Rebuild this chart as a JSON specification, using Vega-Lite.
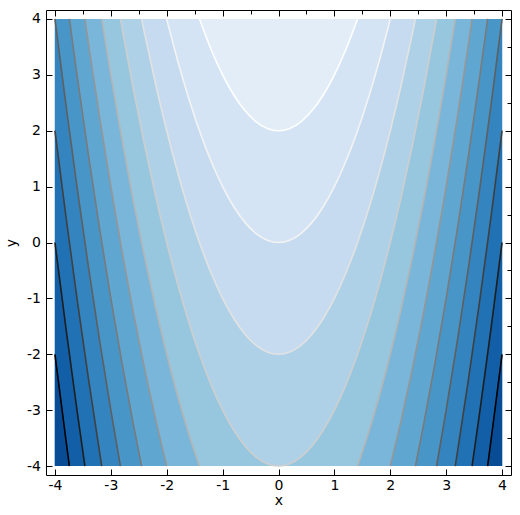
{
  "$schema": "https://vega.github.io/schema/vega-lite/v6.json",
  "width": 465,
  "height": 465,
  "autosize": {"type": "none"},
  "padding": {"left": 46, "top": 10, "right": 9, "bottom": 40},
  "config": {
    "view": {"stroke": "#000", "strokeWidth": 1},
    "font": "DejaVu Sans",
    "axis": {
      "domain": false,
      "grid": false,
      "ticks": true,
      "tickColor": "#000",
      "tickWidth": 1,
      "labelFont": "DejaVu Sans",
      "labelFontSize": 14,
      "labelColor": "#000",
      "labelFlush": false,
      "labelOverlap": false,
      "titleFont": "DejaVu Sans",
      "titleFontSize": 14,
      "titleFontWeight": "normal",
      "titleColor": "#000"
    }
  },
  "datasets": {
    "bg": [{"x": -4, "x2": 4, "y": -4, "y2": 4}],
    "curves": [
      {"k": "L01", "p": "M", "x": -4, "y": 4, "e": 1},
      {"k": "L01", "p": "M", "x": -1.4142, "y": 4},
      {"k": "L01", "p": "M", "x": -1.2, "y": 3.44},
      {"k": "L01", "p": "M", "x": -1.0, "y": 3},
      {"k": "L01", "p": "M", "x": -0.8, "y": 2.64},
      {"k": "L01", "p": "M", "x": -0.6, "y": 2.36},
      {"k": "L01", "p": "M", "x": -0.4, "y": 2.16},
      {"k": "L01", "p": "M", "x": -0.2, "y": 2.04},
      {"k": "L01", "p": "M", "x": 0, "y": 2},
      {"k": "L01", "p": "M", "x": 0.2, "y": 2.04},
      {"k": "L01", "p": "M", "x": 0.4, "y": 2.16},
      {"k": "L01", "p": "M", "x": 0.6, "y": 2.36},
      {"k": "L01", "p": "M", "x": 0.8, "y": 2.64},
      {"k": "L01", "p": "M", "x": 1.0, "y": 3},
      {"k": "L01", "p": "M", "x": 1.2, "y": 3.44},
      {"k": "L01", "p": "M", "x": 1.4142, "y": 4},
      {"k": "L01", "p": "M", "x": 4, "y": 4, "e": 1},

      {"k": "L02", "p": "M", "x": -4, "y": 4, "e": 1},
      {"k": "L02", "p": "M", "x": -2, "y": 4},
      {"k": "L02", "p": "M", "x": -1.8, "y": 3.24},
      {"k": "L02", "p": "M", "x": -1.6, "y": 2.56},
      {"k": "L02", "p": "M", "x": -1.4, "y": 1.96},
      {"k": "L02", "p": "M", "x": -1.2, "y": 1.44},
      {"k": "L02", "p": "M", "x": -1.0, "y": 1},
      {"k": "L02", "p": "M", "x": -0.8, "y": 0.64},
      {"k": "L02", "p": "M", "x": -0.6, "y": 0.36},
      {"k": "L02", "p": "M", "x": -0.4, "y": 0.16},
      {"k": "L02", "p": "M", "x": -0.2, "y": 0.04},
      {"k": "L02", "p": "M", "x": 0, "y": 0},
      {"k": "L02", "p": "M", "x": 0.2, "y": 0.04},
      {"k": "L02", "p": "M", "x": 0.4, "y": 0.16},
      {"k": "L02", "p": "M", "x": 0.6, "y": 0.36},
      {"k": "L02", "p": "M", "x": 0.8, "y": 0.64},
      {"k": "L02", "p": "M", "x": 1.0, "y": 1},
      {"k": "L02", "p": "M", "x": 1.2, "y": 1.44},
      {"k": "L02", "p": "M", "x": 1.4, "y": 1.96},
      {"k": "L02", "p": "M", "x": 1.6, "y": 2.56},
      {"k": "L02", "p": "M", "x": 1.8, "y": 3.24},
      {"k": "L02", "p": "M", "x": 2, "y": 4},
      {"k": "L02", "p": "M", "x": 4, "y": 4, "e": 1},

      {"k": "L03", "p": "M", "x": -4, "y": 4, "e": 1},
      {"k": "L03", "p": "M", "x": -2.4495, "y": 4},
      {"k": "L03", "p": "M", "x": -2.4, "y": 3.76},
      {"k": "L03", "p": "M", "x": -2.2, "y": 2.84},
      {"k": "L03", "p": "M", "x": -2.0, "y": 2},
      {"k": "L03", "p": "M", "x": -1.8, "y": 1.24},
      {"k": "L03", "p": "M", "x": -1.6, "y": 0.56},
      {"k": "L03", "p": "M", "x": -1.4, "y": -0.04},
      {"k": "L03", "p": "M", "x": -1.2, "y": -0.56},
      {"k": "L03", "p": "M", "x": -1.0, "y": -1},
      {"k": "L03", "p": "M", "x": -0.8, "y": -1.36},
      {"k": "L03", "p": "M", "x": -0.6, "y": -1.64},
      {"k": "L03", "p": "M", "x": -0.4, "y": -1.84},
      {"k": "L03", "p": "M", "x": -0.2, "y": -1.96},
      {"k": "L03", "p": "M", "x": 0, "y": -2},
      {"k": "L03", "p": "M", "x": 0.2, "y": -1.96},
      {"k": "L03", "p": "M", "x": 0.4, "y": -1.84},
      {"k": "L03", "p": "M", "x": 0.6, "y": -1.64},
      {"k": "L03", "p": "M", "x": 0.8, "y": -1.36},
      {"k": "L03", "p": "M", "x": 1.0, "y": -1},
      {"k": "L03", "p": "M", "x": 1.2, "y": -0.56},
      {"k": "L03", "p": "M", "x": 1.4, "y": -0.04},
      {"k": "L03", "p": "M", "x": 1.6, "y": 0.56},
      {"k": "L03", "p": "M", "x": 1.8, "y": 1.24},
      {"k": "L03", "p": "M", "x": 2.0, "y": 2},
      {"k": "L03", "p": "M", "x": 2.2, "y": 2.84},
      {"k": "L03", "p": "M", "x": 2.4, "y": 3.76},
      {"k": "L03", "p": "M", "x": 2.4495, "y": 4},
      {"k": "L03", "p": "M", "x": 4, "y": 4, "e": 1},

      {"k": "L04", "p": "M", "x": -4, "y": 4, "e": 1},
      {"k": "L04", "p": "M", "x": -2.8284, "y": 4},
      {"k": "L04", "p": "M", "x": -2.8, "y": 3.84},
      {"k": "L04", "p": "M", "x": -2.6, "y": 2.76},
      {"k": "L04", "p": "M", "x": -2.4, "y": 1.76},
      {"k": "L04", "p": "M", "x": -2.2, "y": 0.84},
      {"k": "L04", "p": "M", "x": -2.0, "y": 0},
      {"k": "L04", "p": "M", "x": -1.8, "y": -0.76},
      {"k": "L04", "p": "M", "x": -1.6, "y": -1.44},
      {"k": "L04", "p": "M", "x": -1.4, "y": -2.04},
      {"k": "L04", "p": "M", "x": -1.2, "y": -2.56},
      {"k": "L04", "p": "M", "x": -1.0, "y": -3},
      {"k": "L04", "p": "M", "x": -0.8, "y": -3.36},
      {"k": "L04", "p": "M", "x": -0.6, "y": -3.64},
      {"k": "L04", "p": "M", "x": -0.4, "y": -3.84},
      {"k": "L04", "p": "M", "x": -0.2, "y": -3.96},
      {"k": "L04", "p": "M", "x": 0, "y": -4},
      {"k": "L04", "p": "M", "x": 0.2, "y": -3.96},
      {"k": "L04", "p": "M", "x": 0.4, "y": -3.84},
      {"k": "L04", "p": "M", "x": 0.6, "y": -3.64},
      {"k": "L04", "p": "M", "x": 0.8, "y": -3.36},
      {"k": "L04", "p": "M", "x": 1.0, "y": -3},
      {"k": "L04", "p": "M", "x": 1.2, "y": -2.56},
      {"k": "L04", "p": "M", "x": 1.4, "y": -2.04},
      {"k": "L04", "p": "M", "x": 1.6, "y": -1.44},
      {"k": "L04", "p": "M", "x": 1.8, "y": -0.76},
      {"k": "L04", "p": "M", "x": 2.0, "y": 0},
      {"k": "L04", "p": "M", "x": 2.2, "y": 0.84},
      {"k": "L04", "p": "M", "x": 2.4, "y": 1.76},
      {"k": "L04", "p": "M", "x": 2.6, "y": 2.76},
      {"k": "L04", "p": "M", "x": 2.8, "y": 3.84},
      {"k": "L04", "p": "M", "x": 2.8284, "y": 4},
      {"k": "L04", "p": "M", "x": 4, "y": 4, "e": 1},

      {"k": "L05", "p": "L", "x": -4, "y": 4, "e": 1},
      {"k": "L05", "p": "L", "x": -3.1623, "y": 4},
      {"k": "L05", "p": "L", "x": -3.0, "y": 3},
      {"k": "L05", "p": "L", "x": -2.8, "y": 1.84},
      {"k": "L05", "p": "L", "x": -2.6, "y": 0.76},
      {"k": "L05", "p": "L", "x": -2.4, "y": -0.24},
      {"k": "L05", "p": "L", "x": -2.2, "y": -1.16},
      {"k": "L05", "p": "L", "x": -2.0, "y": -2},
      {"k": "L05", "p": "L", "x": -1.8, "y": -2.76},
      {"k": "L05", "p": "L", "x": -1.6, "y": -3.44},
      {"k": "L05", "p": "L", "x": -1.4142, "y": -4},
      {"k": "L05", "p": "R", "x": 1.4142, "y": -4},
      {"k": "L05", "p": "R", "x": 1.6, "y": -3.44},
      {"k": "L05", "p": "R", "x": 1.8, "y": -2.76},
      {"k": "L05", "p": "R", "x": 2.0, "y": -2},
      {"k": "L05", "p": "R", "x": 2.2, "y": -1.16},
      {"k": "L05", "p": "R", "x": 2.4, "y": -0.24},
      {"k": "L05", "p": "R", "x": 2.6, "y": 0.76},
      {"k": "L05", "p": "R", "x": 2.8, "y": 1.84},
      {"k": "L05", "p": "R", "x": 3.0, "y": 3},
      {"k": "L05", "p": "R", "x": 3.1623, "y": 4},
      {"k": "L05", "p": "R", "x": 4, "y": 4, "e": 1},

      {"k": "L06", "p": "L", "x": -4, "y": 4, "e": 1},
      {"k": "L06", "p": "L", "x": -3.4641, "y": 4},
      {"k": "L06", "p": "L", "x": -3.4, "y": 3.56},
      {"k": "L06", "p": "L", "x": -3.2, "y": 2.24},
      {"k": "L06", "p": "L", "x": -3.0, "y": 1},
      {"k": "L06", "p": "L", "x": -2.8, "y": -0.16},
      {"k": "L06", "p": "L", "x": -2.6, "y": -1.24},
      {"k": "L06", "p": "L", "x": -2.4, "y": -2.24},
      {"k": "L06", "p": "L", "x": -2.2, "y": -3.16},
      {"k": "L06", "p": "L", "x": -2.0, "y": -4},
      {"k": "L06", "p": "R", "x": 2.0, "y": -4},
      {"k": "L06", "p": "R", "x": 2.2, "y": -3.16},
      {"k": "L06", "p": "R", "x": 2.4, "y": -2.24},
      {"k": "L06", "p": "R", "x": 2.6, "y": -1.24},
      {"k": "L06", "p": "R", "x": 2.8, "y": -0.16},
      {"k": "L06", "p": "R", "x": 3.0, "y": 1},
      {"k": "L06", "p": "R", "x": 3.2, "y": 2.24},
      {"k": "L06", "p": "R", "x": 3.4, "y": 3.56},
      {"k": "L06", "p": "R", "x": 3.4641, "y": 4},
      {"k": "L06", "p": "R", "x": 4, "y": 4, "e": 1},

      {"k": "L07", "p": "L", "x": -4, "y": 4, "e": 1},
      {"k": "L07", "p": "L", "x": -3.7417, "y": 4},
      {"k": "L07", "p": "L", "x": -3.6, "y": 2.96},
      {"k": "L07", "p": "L", "x": -3.4, "y": 1.56},
      {"k": "L07", "p": "L", "x": -3.2, "y": 0.24},
      {"k": "L07", "p": "L", "x": -3.0, "y": -1},
      {"k": "L07", "p": "L", "x": -2.8, "y": -2.16},
      {"k": "L07", "p": "L", "x": -2.6, "y": -3.24},
      {"k": "L07", "p": "L", "x": -2.4495, "y": -4},
      {"k": "L07", "p": "R", "x": 2.4495, "y": -4},
      {"k": "L07", "p": "R", "x": 2.6, "y": -3.24},
      {"k": "L07", "p": "R", "x": 2.8, "y": -2.16},
      {"k": "L07", "p": "R", "x": 3.0, "y": -1},
      {"k": "L07", "p": "R", "x": 3.2, "y": 0.24},
      {"k": "L07", "p": "R", "x": 3.4, "y": 1.56},
      {"k": "L07", "p": "R", "x": 3.6, "y": 2.96},
      {"k": "L07", "p": "R", "x": 3.7417, "y": 4},
      {"k": "L07", "p": "R", "x": 4, "y": 4, "e": 1},

      {"k": "L08", "p": "L", "x": -4, "y": 4},
      {"k": "L08", "p": "L", "x": -3.8, "y": 2.44},
      {"k": "L08", "p": "L", "x": -3.6, "y": 0.96},
      {"k": "L08", "p": "L", "x": -3.4, "y": -0.44},
      {"k": "L08", "p": "L", "x": -3.2, "y": -1.76},
      {"k": "L08", "p": "L", "x": -3.0, "y": -3},
      {"k": "L08", "p": "L", "x": -2.8284, "y": -4},
      {"k": "L08", "p": "R", "x": 2.8284, "y": -4},
      {"k": "L08", "p": "R", "x": 3.0, "y": -3},
      {"k": "L08", "p": "R", "x": 3.2, "y": -1.76},
      {"k": "L08", "p": "R", "x": 3.4, "y": -0.44},
      {"k": "L08", "p": "R", "x": 3.6, "y": 0.96},
      {"k": "L08", "p": "R", "x": 3.8, "y": 2.44},
      {"k": "L08", "p": "R", "x": 4, "y": 4},

      {"k": "L09", "p": "L", "x": -4, "y": 2},
      {"k": "L09", "p": "L", "x": -3.8, "y": 0.44},
      {"k": "L09", "p": "L", "x": -3.6, "y": -1.04},
      {"k": "L09", "p": "L", "x": -3.4, "y": -2.44},
      {"k": "L09", "p": "L", "x": -3.2, "y": -3.76},
      {"k": "L09", "p": "L", "x": -3.1623, "y": -4},
      {"k": "L09", "p": "R", "x": 3.1623, "y": -4},
      {"k": "L09", "p": "R", "x": 3.2, "y": -3.76},
      {"k": "L09", "p": "R", "x": 3.4, "y": -2.44},
      {"k": "L09", "p": "R", "x": 3.6, "y": -1.04},
      {"k": "L09", "p": "R", "x": 3.8, "y": 0.44},
      {"k": "L09", "p": "R", "x": 4, "y": 2},

      {"k": "L10", "p": "L", "x": -4, "y": 0},
      {"k": "L10", "p": "L", "x": -3.8, "y": -1.56},
      {"k": "L10", "p": "L", "x": -3.6, "y": -3.04},
      {"k": "L10", "p": "L", "x": -3.4641, "y": -4},
      {"k": "L10", "p": "R", "x": 3.4641, "y": -4},
      {"k": "L10", "p": "R", "x": 3.6, "y": -3.04},
      {"k": "L10", "p": "R", "x": 3.8, "y": -1.56},
      {"k": "L10", "p": "R", "x": 4, "y": 0},

      {"k": "L11", "p": "L", "x": -4, "y": -2},
      {"k": "L11", "p": "L", "x": -3.8, "y": -3.56},
      {"k": "L11", "p": "L", "x": -3.7417, "y": -4},
      {"k": "L11", "p": "R", "x": 3.7417, "y": -4},
      {"k": "L11", "p": "R", "x": 3.8, "y": -3.56},
      {"k": "L11", "p": "R", "x": 4, "y": -2}
    ]
  },
  "resolve": {"axis": {"x": "independent", "y": "independent"}},
  "layer": [
    {
      "data": {"name": "bg"},
      "mark": {"type": "rect", "color": "#e2edf8"},
      "encoding": {
        "x": {"field": "x", "type": "quantitative", "scale": {"domain": [-4.16, 4.16], "nice": false, "zero": false}, "axis": null},
        "x2": {"field": "x2"},
        "y": {"field": "y", "type": "quantitative", "scale": {"domain": [-4.16, 4.16], "nice": false, "zero": false}, "axis": null},
        "y2": {"field": "y2"}
      }
    },
    {
      "data": {"name": "curves"},
      "mark": {"type": "area", "opacity": 1, "interpolate": "linear"},
      "encoding": {
        "x": {
          "field": "x", "type": "quantitative",
          "scale": {"domain": [-4.16, 4.16], "nice": false, "zero": false},
          "axis": {
            "orient": "bottom",
            "values": [-4, -3.5, -3, -2.5, -2, -1.5, -1, -0.5, 0, 0.5, 1, 1.5, 2, 2.5, 3, 3.5, 4],
            "format": "d",
            "tickSize": {"condition": {"test": "datum.value % 1 !== 0", "value": -4}, "value": -6},
            "labelExpr": "datum.value % 1 === 0 ? replace(datum.label, '\u2212', '-') : ''",
            "labelPadding": 9,
            "title": "x",
            "titlePadding": 1
          }
        },
        "y": {
          "field": "y", "type": "quantitative", "stack": null,
          "scale": {"domain": [-4.16, 4.16], "nice": false, "zero": false},
          "axis": {
            "orient": "left",
            "values": [-4, -3.5, -3, -2.5, -2, -1.5, -1, -0.5, 0, 0.5, 1, 1.5, 2, 2.5, 3, 3.5, 4],
            "format": "d",
            "tickSize": {"condition": {"test": "datum.value % 1 !== 0", "value": -4}, "value": -6},
            "labelExpr": "datum.value % 1 === 0 ? replace(datum.label, '\u2212', '-') : ''",
            "labelPadding": 11.5,
            "title": "y",
            "titlePadding": 8
          }
        },
        "y2": {"datum": -4},
        "fill": {
          "field": "k", "type": "nominal", "legend": null,
          "scale": {
            "domain": ["L01", "L02", "L03", "L04", "L05", "L06", "L07", "L08", "L09", "L10", "L11"],
            "range": ["#d4e4f4", "#c6dbef", "#afd1e7", "#97c6df", "#7ab6d9", "#5fa6d1", "#4896c8", "#3484bf", "#2171b5", "#135fa7", "#084c95"]
          }
        }
      }
    },
    {
      "data": {"name": "curves"},
      "transform": [{"filter": "!datum.e"}],
      "mark": {"type": "line", "interpolate": "monotone", "strokeWidth": 1.6},
      "encoding": {
        "x": {
          "field": "x", "type": "quantitative",
          "scale": {"domain": [-4.16, 4.16], "nice": false, "zero": false},
          "axis": {
            "orient": "top",
            "values": [-4, -3.5, -3, -2.5, -2, -1.5, -1, -0.5, 0, 0.5, 1, 1.5, 2, 2.5, 3, 3.5, 4],
            "tickSize": {"condition": {"test": "datum.value % 1 !== 0", "value": -4}, "value": -6},
            "labels": false,
            "title": null
          }
        },
        "y": {
          "field": "y", "type": "quantitative",
          "scale": {"domain": [-4.16, 4.16], "nice": false, "zero": false},
          "axis": {
            "orient": "right",
            "values": [-4, -3.5, -3, -2.5, -2, -1.5, -1, -0.5, 0, 0.5, 1, 1.5, 2, 2.5, 3, 3.5, 4],
            "tickSize": {"condition": {"test": "datum.value % 1 !== 0", "value": -4}, "value": -6},
            "labels": false,
            "title": null
          }
        },
        "detail": {"field": "p", "type": "nominal"},
        "stroke": {
          "field": "k", "type": "nominal", "legend": null,
          "scale": {
            "domain": ["L01", "L02", "L03", "L04", "L05", "L06", "L07", "L08", "L09", "L10", "L11"],
            "range": ["#ffffff", "#f3f3f3", "#e2e2e2", "#cecece", "#b5b5b5", "#969696", "#7a7a7a", "#5f5f5f", "#404040", "#1e1e1e", "#000000"]
          }
        }
      }
    }
  ]
}
